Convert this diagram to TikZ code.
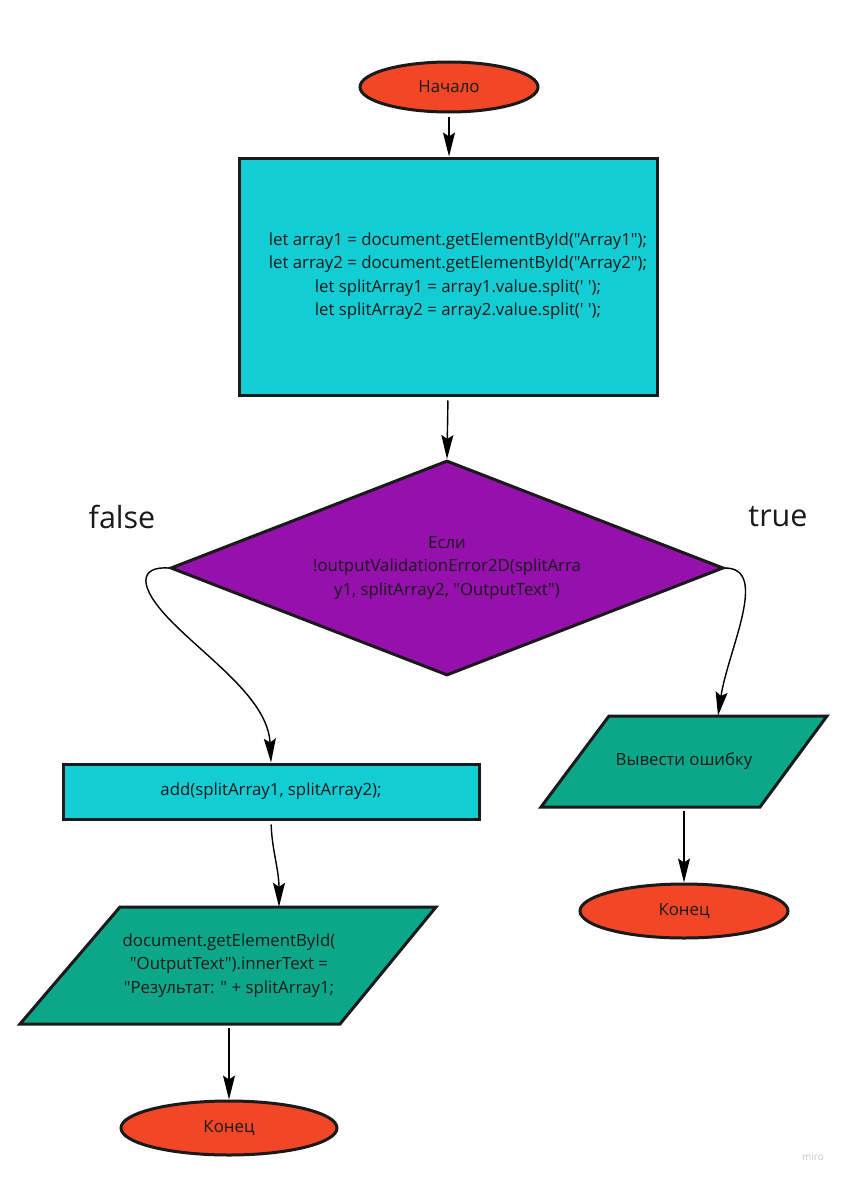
\documentclass[tikz,border=0pt]{standalone}
\usepackage{fontspec}
\newfontfamily\osans{Open Sans}
\usetikzlibrary{shapes.geometric,arrows.meta}
\definecolor{termred}{HTML}{F24726}
\definecolor{proccyan}{HTML}{12CDD4}
\definecolor{condpurple}{HTML}{9510AC}
\definecolor{iogreen}{HTML}{0CA789}
\definecolor{ink}{HTML}{1A1A1A}
\begin{document}
\begin{tikzpicture}[x=1pt,y=-1pt,
  every node/.style={font=\osans\fontsize{16.8}{23.5}\selectfont, text=ink, inner sep=0pt},
  box/.style={draw=ink, line width=3pt},
  term/.style={box, ellipse, fill=termred},
  proc/.style={box, rectangle, fill=proccyan},
  cond/.style={box, diamond, aspect=2.57, fill=condpurple},
  iobox/.style={box, fill=iogreen, line join=miter},
  flow/.style={line width=1.4pt, black, -{Stealth[length=24pt,width=12pt,inset=4pt]}, shorten <=4pt},
  branch/.style={font=\osans\fontsize{30.5}{32}\selectfont}
]
% page
\fill[white] (0,0) rectangle (847,1180);
\useasboundingbox (0,0) rectangle (847,1180);

% start
\node[term, minimum width=178, minimum height=50] (start) at (449,87) {Начало};

% initialisation block
\node[proc, minimum width=418, minimum height=237] (init) at (448,276.5) {};
\node[align=center] (inittext) at (458,276) {let array1 = document.getElementById("Array1");\\
let array2 = document.getElementById("Array2");\\
let splitArray1 = array1.value.split(' ');\\
let splitArray2 = array2.value.split(' ');};

% condition
\node[cond, minimum width=553, minimum height=215, align=center] (test) at (447,568)
  {Если\\!outputValidationError2D(splitArra\\y1, splitArray2, "OutputText")};
\node[branch] (lblF) at (122,517) {false};
\node[branch] (lblT) at (778,517) {true};

% false branch
\node[proc, minimum width=416, minimum height=55] (add) at (271,791.5) {add(splitArray1, splitArray2);};
\draw[iobox] (120,907) -- (436,907) -- (340,1024) -- (20,1024) -- cycle;
\node[align=center, minimum height=117] (show) at (229,965.5)
  {document.getElementById(\\"OutputText").innerText =\\"Результат: " + splitArray1;};
\node[term, minimum width=216, minimum height=54] (endL) at (229,1128) {Конец};

% true branch
\draw[iobox] (609,716) -- (827,716) -- (760,807) -- (541,807) -- cycle;
\node[minimum height=91] (err) at (684,761.5) {Вывести ошибку};
\node[term, minimum width=208, minimum height=54] (endR) at (684,911) {Конец};

% connectors
\draw[flow] (start.south) -- (start.south |- init.north);
\draw[flow] (init.south) -- (test.north);
\draw[flow, shorten <=0pt] (test.west) .. controls (140,566) and (135,585) .. (173,623)
  .. controls (211,661) and (268,700) .. (add.north);
\draw[flow, shorten <=0pt] (test.east) .. controls (770,568) and (728,650) .. ([xshift=34pt]err.north);
\draw[flow] (add.south) .. controls (272,850) and (279,870) .. ([xshift=50pt]show.north);
\draw[flow] (show.south) -- (endL.north);
\draw[flow] (err.south) -- (endR.north);

\node[font=\osans\fontsize{10}{12}\selectfont, text=black!22] (brand) at (813,1157) {miro};
\end{tikzpicture}
\end{document}
